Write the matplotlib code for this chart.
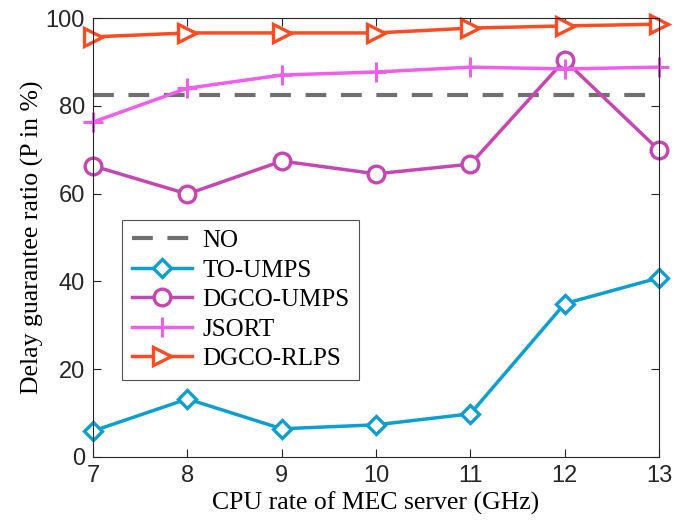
import matplotlib
matplotlib.use("Agg")
import matplotlib.pyplot as plt

cpu_rate = [7, 8, 9, 10, 11, 12, 13]
no_level = 82.5
to_umps = [5.9, 13.2, 6.4, 7.3, 9.8, 34.9, 40.8]
dgco_umps = [66.3, 59.9, 67.4, 64.5, 66.7, 90.4, 69.9]
jsort = [76.3, 84.0, 87.0, 87.7, 88.8, 88.4, 88.8]
dgco_rlps = [95.7, 96.6, 96.6, 96.6, 97.7, 98.2, 98.6]

serif = "Liberation Serif"
sans = "Liberation Sans"

fig = plt.figure(figsize=(6.9, 5.3), dpi=100)
ax = fig.add_axes([0.135, 0.138, 0.82, 0.828])

ax.plot([cpu_rate[0], cpu_rate[-1]], [no_level, no_level], "--", color="#707070",
        lw=3.0, dashes=(5, 3.5), label="NO")
ax.plot(cpu_rate, to_umps, color="#0E9ED2", lw=2.5, marker="D", ms=9,
        mfc="white", mew=2.4, label="TO-UMPS", clip_on=False)
ax.plot(cpu_rate, dgco_umps, color="#C646B4", lw=2.5, marker="o", ms=12,
        mfc="white", mew=2.4, label="DGCO-UMPS", clip_on=False)
ax.plot(cpu_rate, jsort, color="#F05EEE", lw=2.5, marker="+", ms=15,
        mew=2.2, label="JSORT", clip_on=False)
ax.plot(cpu_rate, dgco_rlps, color="#FF4A22", lw=2.5, marker=">", ms=13,
        mfc="white", mew=2.4, label="DGCO-RLPS", clip_on=False)

ax.set_xlim(7, 13)
ax.set_ylim(0, 100)
ax.set_xticks(cpu_rate)
ax.set_yticks([0, 20, 40, 60, 80, 100])
ax.tick_params(direction="in", top=True, right=True, length=6, width=0.8,
               labelsize=17, colors="#262626", pad=6)
for lab in ax.get_xticklabels() + ax.get_yticklabels():
    lab.set_family(sans)
for sp in ax.spines.values():
    sp.set_color("#262626")
    sp.set_linewidth(0.8)

ax.set_xlabel("CPU rate of MEC server (GHz)", family=serif, fontsize=18.5, labelpad=3)
ax.set_ylabel("Delay guarantee ratio (P in %)", family=serif, fontsize=18.5, labelpad=1)

leg = ax.legend(loc="lower left", bbox_to_anchor=(0.051, 0.175), fancybox=False,
                prop={"family": serif, "size": 18}, handlelength=2.4,
                labelspacing=0.28, borderpad=0.4, handletextpad=0.4,
                borderaxespad=0)
leg.get_frame().set_edgecolor("#262626")
leg.get_frame().set_linewidth(0.8)

fig.savefig("out.png", dpi=100)
